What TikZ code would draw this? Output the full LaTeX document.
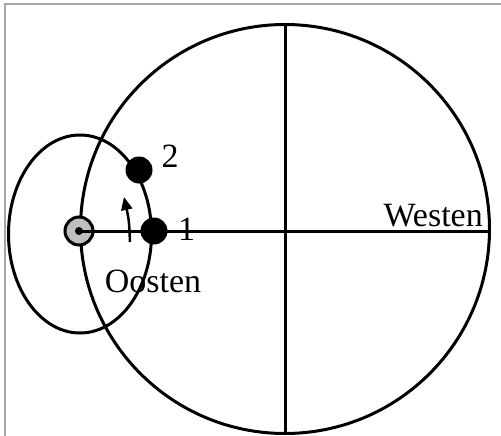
\documentclass[tikz,border=0pt]{standalone}
\usepackage{fontspec}
\setmainfont{Liberation Serif}
\usetikzlibrary{arrows.meta,shapes.geometric}

\begin{document}
\begin{tikzpicture}[
  x=1pt, y=-1pt,
  orbit/.style={draw, line width=3pt, inner sep=0pt},
  planet/.style={circle, fill=black, minimum size=27pt, inner sep=0pt},
  axis/.style={line width=3pt},
  label/.style={font=\fontsize{34}{40}\selectfont, inner sep=0pt},
  arrow/.style={-{Triangle[length=13pt,width=11pt]}, line width=2.5pt},
]
\useasboundingbox (0,0) rectangle (501,436);

% Frame
\draw[black!35, line width=2pt] (4.5,436) -- (4.5,4.5) -- (501,4.5);

% Big circle and small ellipse
\node[orbit, circle, minimum size=409pt] (earth) at (285,229) {};
\node[orbit, ellipse, minimum width=143pt, minimum height=198pt] (moon) at (80,234) {};

% Axes
\draw[axis] (earth.north) -- (earth.south);
\node[circle, draw, line width=3pt, fill=black!25, minimum size=28pt, inner sep=0pt] (sun) at (79,231) {};
\draw[axis] (sun.center) -- (sun.center -| earth.east);
\node[circle, fill=black, minimum size=8pt, inner sep=0pt] (core) at (sun.center) {};

% Positions 1 and 2
\node[planet] (p1) at (154,231) {};
\node[planet] (p2) at (139,170) {};

% Direction of motion
\coordinate (a0) at (130,242);
\coordinate (a1) at (124,197);
\draw[arrow] (a0) .. controls (129,220) .. (a1);

% Labels
\node[label, anchor=base west] (n1) at (178,240) {1};
\node[label, anchor=base] (n2) at (170,167) {2};
\node[label, anchor=base] (oost) at (153,292) {Oosten};
\node[label, anchor=base east] (west) at (483,226) {Westen};

\end{tikzpicture}
\end{document}
